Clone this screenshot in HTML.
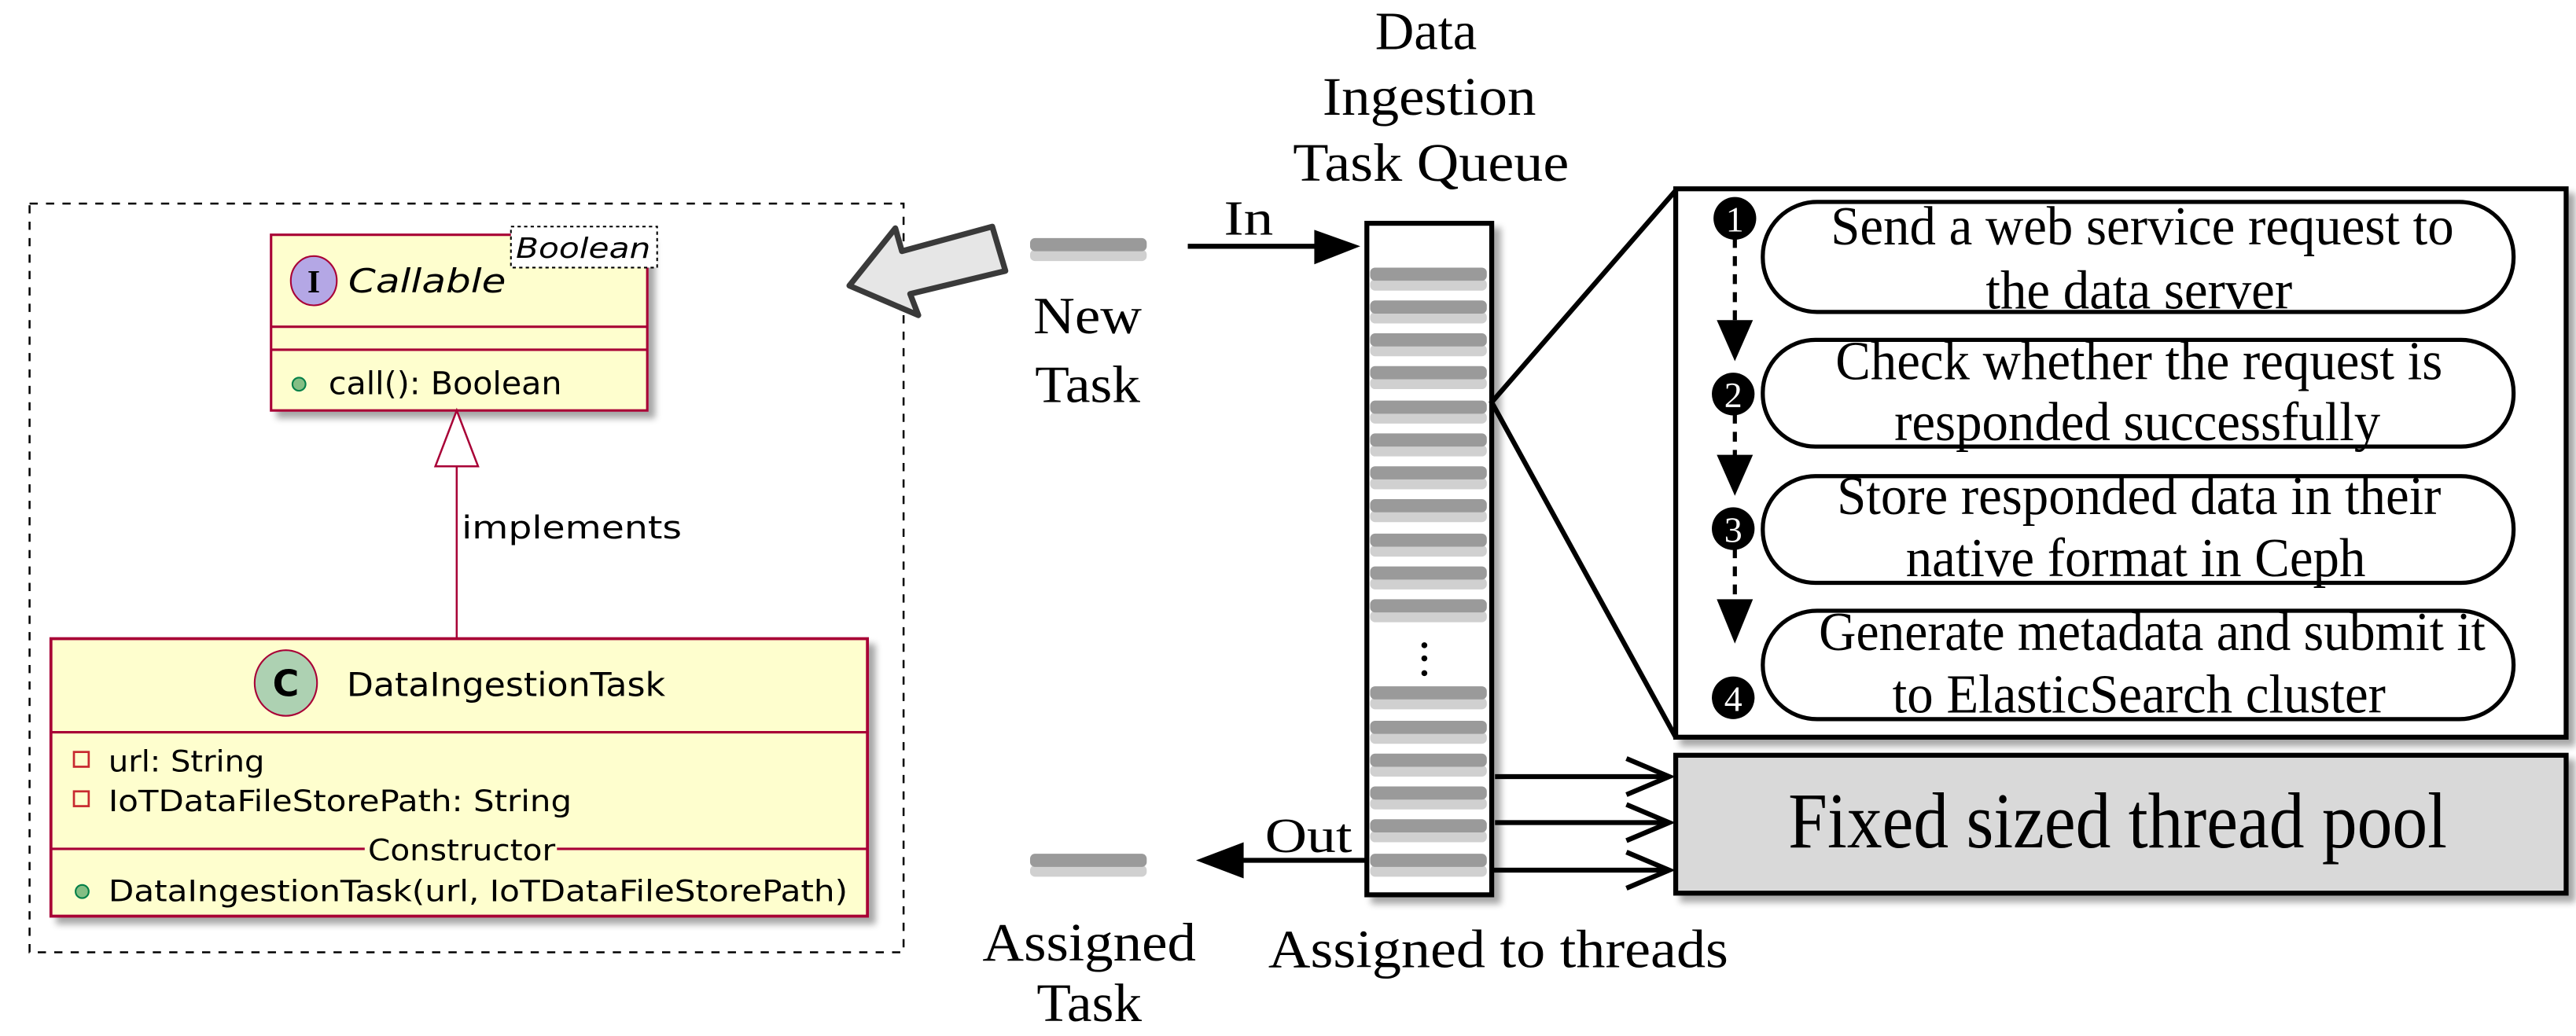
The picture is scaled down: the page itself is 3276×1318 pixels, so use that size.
<!DOCTYPE html>
<html><head><meta charset="utf-8"><style>
html,body{margin:0;padding:0;background:#fff}
svg{display:block}
.t{font-family:"Liberation Serif",serif;fill:#000}
.u{font-family:"DejaVu Sans","Liberation Sans",sans-serif;fill:#000}
</style></head><body>
<svg width="3276" height="1318" viewBox="0 0 1568 631" preserveAspectRatio="none" xmlns="http://www.w3.org/2000/svg">
<defs>
<filter id="sh" x="-10%" y="-10%" width="130%" height="130%"><feGaussianBlur in="SourceAlpha" stdDeviation="2"/><feOffset dx="4" dy="4"/><feComponentTransfer><feFuncA type="linear" slope="0.35"/></feComponentTransfer><feMerge><feMergeNode/><feMergeNode in="SourceGraphic"/></feMerge></filter>
<g id="bar"><rect x="0" y="3" width="71" height="7" fill="#d0d0d0" rx="3"/><rect x="0" y="-4" width="71" height="8" fill="#9a9a9a" rx="3"/></g>
</defs>

<rect x="18" y="124" width="532" height="456" fill="none" stroke="#000" stroke-width="1.2" stroke-dasharray="5,5"/>

<rect x="165" y="143" width="229" height="107" fill="#fefece" stroke="#a80036" stroke-width="1.5" filter="url(#sh)"/>
<line x1="165" y1="199" x2="394" y2="199" stroke="#a80036" stroke-width="1.5"/>
<line x1="165" y1="213" x2="394" y2="213" stroke="#a80036" stroke-width="1.5"/>
<ellipse cx="191" cy="171" rx="14" ry="15" fill="#b4a7e5" stroke="#a80036" stroke-width="1"/>
<text x="191" y="178" text-anchor="middle" font-size="20" font-weight="bold" font-family="Liberation Serif,serif">I</text>
<text x="212" y="178" class="u" font-size="20" font-style="italic" textLength="96" lengthAdjust="spacingAndGlyphs">Callable</text>
<rect x="311" y="138" width="89" height="25" fill="#fff" stroke="#000" stroke-width="1" stroke-dasharray="2,2"/>
<text x="314" y="157" class="u" font-size="17" font-style="italic" textLength="82" lengthAdjust="spacingAndGlyphs">Boolean</text>
<circle cx="182" cy="234" r="4" fill="#84be84" stroke="#038048" stroke-width="1"/>
<text x="200" y="240" class="u" font-size="19" textLength="142" lengthAdjust="spacingAndGlyphs">call(): Boolean</text>

<line x1="278" y1="284" x2="278" y2="389" stroke="#a80036" stroke-width="1.2"/>
<polygon points="278,250 265,284 291,284" fill="#fff" stroke="#a80036" stroke-width="1.2"/>
<text x="281" y="328" class="u" font-size="19" textLength="134" lengthAdjust="spacingAndGlyphs">implements</text>

<rect x="31" y="389" width="497" height="169" fill="#fefece" stroke="#a80036" stroke-width="1.8" filter="url(#sh)"/>
<line x1="31" y1="446" x2="528" y2="446" stroke="#a80036" stroke-width="1.5"/>
<line x1="31" y1="517" x2="222" y2="517" stroke="#a80036" stroke-width="1.5"/>
<line x1="339" y1="517" x2="528" y2="517" stroke="#a80036" stroke-width="1.5"/>
<ellipse cx="174" cy="416" rx="19" ry="20" fill="#add1b2" stroke="#a80036" stroke-width="1"/>
<text x="174" y="424" text-anchor="middle" class="u" font-size="22" font-weight="bold">C</text>
<text x="211" y="424" class="u" font-size="20" textLength="194" lengthAdjust="spacingAndGlyphs">DataIngestionTask</text>
<rect x="45" y="458" width="9" height="9" fill="none" stroke="#c82930" stroke-width="1.3"/>
<text x="66" y="470" class="u" font-size="18" textLength="95" lengthAdjust="spacingAndGlyphs">url: String</text>
<rect x="45" y="482" width="9" height="9" fill="none" stroke="#c82930" stroke-width="1.3"/>
<text x="66" y="494" class="u" font-size="18" textLength="282" lengthAdjust="spacingAndGlyphs">IoTDataFileStorePath: String</text>
<text x="224" y="524" class="u" font-size="18" textLength="114" lengthAdjust="spacingAndGlyphs">Constructor</text>
<circle cx="50" cy="543" r="4" fill="#84be84" stroke="#038048" stroke-width="1"/>
<text x="66" y="549" class="u" font-size="18" textLength="450" lengthAdjust="spacingAndGlyphs">DataIngestionTask(url, IoTDataFileStorePath)</text>

<polygon points="517,174 545,139 549,153 604,138 612,165 554,179 559,192" fill="#e6e6e6" stroke="#3a3a3a" stroke-width="3.5" stroke-linejoin="round"/>

<use href="#bar" x="627" y="149"/>
<text x="662" y="203" text-anchor="middle" class="t" font-size="32" textLength="66" lengthAdjust="spacingAndGlyphs">New</text>
<text x="662" y="245" text-anchor="middle" class="t" font-size="32" textLength="64" lengthAdjust="spacingAndGlyphs">Task</text>

<line x1="723" y1="150" x2="802" y2="150" stroke="#000" stroke-width="3"/>
<polygon points="800,140 828,150 800,161" fill="#000"/>
<text x="745" y="143" class="t" font-size="30" textLength="30" lengthAdjust="spacingAndGlyphs">In</text>

<text x="868" y="30" text-anchor="middle" class="t" font-size="33" textLength="62" lengthAdjust="spacingAndGlyphs">Data</text>
<text x="870" y="70" text-anchor="middle" class="t" font-size="33" textLength="130" lengthAdjust="spacingAndGlyphs">Ingestion</text>
<text x="871" y="110" text-anchor="middle" class="t" font-size="33" textLength="168" lengthAdjust="spacingAndGlyphs">Task Queue</text>

<rect x="832" y="136" width="76" height="409" fill="#fff" stroke="#000" stroke-width="3" filter="url(#sh)"/>
<g>
<use href="#bar" x="834" y="167"/><use href="#bar" x="834" y="187"/><use href="#bar" x="834" y="207"/>
<use href="#bar" x="834" y="227"/><use href="#bar" x="834" y="248"/><use href="#bar" x="834" y="268"/>
<use href="#bar" x="834" y="288"/><use href="#bar" x="834" y="308"/><use href="#bar" x="834" y="329"/>
<use href="#bar" x="834" y="349"/><use href="#bar" x="834" y="369"/>
<use href="#bar" x="834" y="422"/><use href="#bar" x="834" y="443"/><use href="#bar" x="834" y="463"/>
<use href="#bar" x="834" y="483"/><use href="#bar" x="834" y="503"/><use href="#bar" x="834" y="524"/>
</g>
<circle cx="867" cy="393" r="1.8" fill="#000"/><circle cx="867" cy="401" r="1.8" fill="#000"/><circle cx="867" cy="410" r="1.8" fill="#000"/>

<line x1="832" y1="524" x2="755" y2="524" stroke="#000" stroke-width="3"/>
<polygon points="757,513 728,524 757,535" fill="#000"/>
<text x="770" y="519" class="t" font-size="30" textLength="53" lengthAdjust="spacingAndGlyphs">Out</text>

<use href="#bar" x="627" y="524"/>
<text x="663" y="585" text-anchor="middle" class="t" font-size="33" textLength="130" lengthAdjust="spacingAndGlyphs">Assigned</text>
<text x="663" y="622" text-anchor="middle" class="t" font-size="33" textLength="64" lengthAdjust="spacingAndGlyphs">Task</text>
<text x="912" y="589" text-anchor="middle" class="t" font-size="33" textLength="280" lengthAdjust="spacingAndGlyphs">Assigned to threads</text>

<g stroke="#000" stroke-width="3" fill="none">
<line x1="910" y1="473" x2="1016" y2="473"/><polyline points="990,462 1016,473 990,484"/>
<line x1="910" y1="501" x2="1016" y2="501"/><polyline points="990,490 1016,501 990,512"/>
<line x1="908" y1="530" x2="1016" y2="530"/><polyline points="990,519 1016,530 990,541"/>
</g>

<polyline points="1020,116 908,245 1020,449" fill="none" stroke="#000" stroke-width="3"/>

<rect x="1020" y="115" width="542" height="334" fill="#fff" stroke="#000" stroke-width="3" filter="url(#sh)"/>
<g fill="#fff" stroke="#000" stroke-width="2.5">
<rect x="1073" y="123" width="457" height="67" rx="33"/>
<rect x="1073" y="207" width="457" height="65" rx="32"/>
<rect x="1073" y="290" width="457" height="65" rx="32"/>
<rect x="1073" y="372" width="457" height="66" rx="33"/>
</g>
<g stroke="#000" stroke-width="2.5" stroke-dasharray="6,5">
<line x1="1056" y1="145" x2="1056" y2="200"/>
<line x1="1056" y1="252" x2="1056" y2="282"/>
<line x1="1056" y1="334" x2="1056" y2="370"/>
</g>
<g fill="#000">
<polygon points="1045,195 1067,195 1056,220"/>
<polygon points="1045,277 1067,277 1056,302"/>
<polygon points="1045,365 1067,365 1056,392"/>
<circle cx="1056" cy="133" r="13"/><circle cx="1055" cy="240" r="13"/>
<circle cx="1055" cy="322" r="13"/><circle cx="1055" cy="425" r="13"/>
</g>
<g font-size="22" text-anchor="middle" font-family="Liberation Serif,serif" fill="#fff">
<text x="1056" y="141">1</text>
<text x="1055" y="248">2</text>
<text x="1055" y="330">3</text>
<text x="1055" y="433">4</text>
</g>
<g class="t" font-size="32" text-anchor="middle">
<text transform="translate(1304,149) scale(1,1.05)">Send a web service request to</text>
<text transform="translate(1302,188) scale(1,1.05)">the data server</text>
<text transform="translate(1302,231) scale(1,1.05)">Check whether the request is</text>
<text transform="translate(1301,268) scale(1,1.05)">responded successfully</text>
<text transform="translate(1302,313) scale(1,1.05)">Store responded data in their</text>
<text transform="translate(1300,351) scale(1,1.05)">native format in Ceph</text>
<text transform="translate(1310,396) scale(0.98,1.05)">Generate metadata and submit it</text>
<text transform="translate(1302,434) scale(1,1.05)">to ElasticSearch cluster</text>
</g>

<rect x="1020" y="460" width="542" height="84" fill="#d9d9d9" stroke="#000" stroke-width="3" filter="url(#sh)"/>
<text x="1289" y="516" text-anchor="middle" class="t" font-size="48" textLength="401" lengthAdjust="spacingAndGlyphs">Fixed sized thread pool</text>
</svg>
</body></html>
